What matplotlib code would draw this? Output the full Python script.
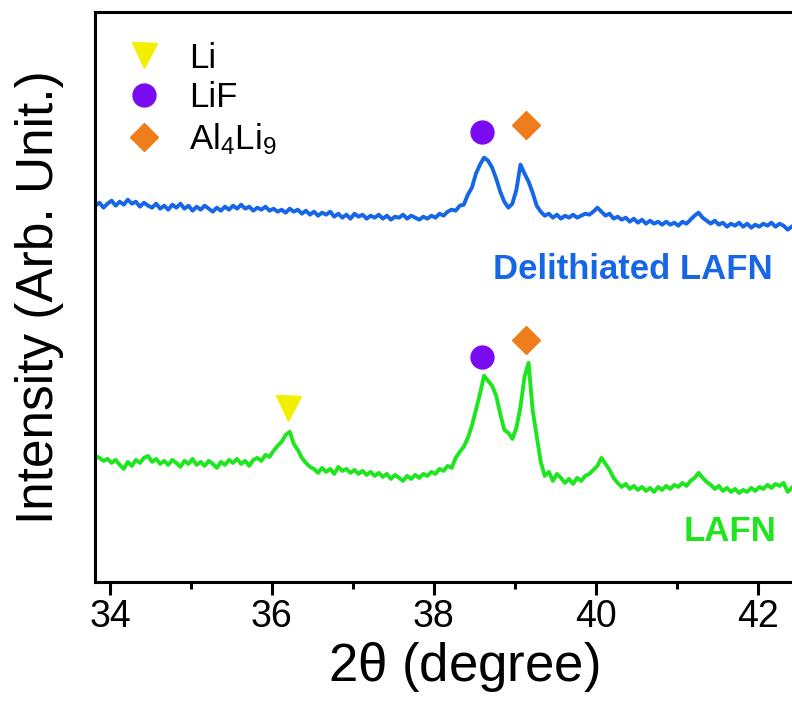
import matplotlib
matplotlib.use("Agg")
import matplotlib.pyplot as plt
import numpy as np

plt.rcParams['font.family'] = ['Liberation Sans', 'DejaVu Sans']
plt.rcParams['mathtext.fontset'] = 'custom'
plt.rcParams['mathtext.rm'] = 'Liberation Sans'
plt.rcParams['mathtext.it'] = 'Liberation Sans'

# 2theta scan grid (deg), 0.05 deg step
two_theta = np.round(33.82 + 0.05 * np.arange(173), 2)

# LAFN (plotted, arb. units)
lafn = [126, 124, 121, 123, 119, 122, 117, 113, 120, 116,
        122, 119, 124, 126, 120, 123, 118, 121, 117, 122,
        119, 115, 121, 118, 123, 117, 120, 116, 121, 118,
        114, 120, 117, 122, 119, 123, 118, 121, 116, 122,
        124, 121, 127, 125, 131, 136, 140, 147, 150, 138,
        132, 124, 119, 115, 113, 109, 114, 110, 113, 108,
        115, 111, 113, 109, 112, 108, 111, 107, 110, 106,
        109, 105, 108, 103, 107, 104, 101, 106, 103, 107,
        104, 108, 106, 110, 108, 113, 111, 116, 114, 124,
        130, 135, 144, 156, 172, 188, 206, 201, 196, 186,
        168, 152, 149, 143, 154, 175, 205, 219, 172, 146,
        120, 106, 110, 101, 108, 104, 99, 103, 98, 104,
        101, 106, 108, 112, 116, 124, 118, 112, 104, 99,
        95, 98, 93, 96, 92, 95, 91, 94, 90, 95,
        92, 96, 93, 97, 95, 99, 96, 101, 104, 109,
        104, 100, 97, 93, 96, 91, 94, 90, 93, 89,
        92, 90, 94, 91, 95, 93, 97, 94, 98, 96,
        99, 90, 94]

# Delithiated LAFN (plotted, arb. units)
delith = [376, 379, 374, 378, 381, 376, 380, 377, 382, 378,
          380, 375, 379, 376, 374, 378, 373, 376, 372, 377,
          374, 378, 373, 376, 371, 375, 372, 376, 373, 370,
          374, 371, 375, 372, 376, 373, 377, 373, 375, 371,
          374, 372, 375, 371, 373, 370, 372, 369, 373, 370,
          372, 368, 371, 367, 370, 366, 369, 367, 370, 365,
          368, 364, 367, 363, 368, 365, 367, 363, 366, 364,
          367, 363, 366, 362, 365, 364, 367, 363, 366, 364,
          362, 365, 363, 366, 364, 368, 366, 370, 372, 371,
          376, 377, 387, 394, 408, 417, 424, 421, 414, 403,
          390, 380, 374, 378, 392, 417, 408, 400, 389, 376,
          370, 366, 368, 364, 367, 363, 366, 364, 367, 364,
          366, 368, 367, 370, 374, 370, 366, 368, 363, 365,
          362, 364, 360, 363, 359, 362, 358, 361, 358, 360,
          357, 360, 357, 359, 356, 360, 358, 362, 366, 369,
          364, 361, 358, 361, 357, 359, 355, 358, 356, 359,
          355, 358, 354, 357, 355, 358, 356, 359, 355, 358,
          356, 352, 355]

# phase markers: position (deg) and height
li_pos, li_h = [36.20], [174]
lif_pos, lif_h = [38.60, 38.60], [450, 225]
al_pos, al_h = [39.14, 39.14], [457, 242]

c_blue = '#1766E6'
c_green = '#1EE61E'

fig = plt.figure(figsize=(7.92, 7.02), dpi=100)
W, H = 792, 702
ax = fig.add_axes([95 / W, 1 - 582 / H, (833 - 95) / W, (582 - 11.5) / H])

ax.plot(two_theta, delith, color=c_blue, lw=2.8)
ax.plot(two_theta, lafn, color=c_green, lw=2.8)

ax.plot(li_pos, li_h, 'v', color='#F2F000', ms=18, ls='none', label='Li')
ax.plot(lif_pos, lif_h, 'o', color='#7A0AF0', ms=16.5, ls='none', label='LiF')
ax.plot(al_pos, al_h, 'D', color='#F07D1C', ms=14, ls='none', label=r'Al$_4$Li$_9$')

ax.text(42.185, 312, 'Delithiated LAFN', color=c_blue, fontsize=25,
        fontweight='bold', ha='right', va='center')
ax.text(42.235, 50, 'LAFN', color=c_green, fontsize=25,
        fontweight='bold', ha='right', va='center')

ax.set_xlim(33.815, 42.93)
ax.set_ylim(0, 570)
ax.set_xticks([34, 36, 38, 40, 42])
ax.set_xticks([35, 37, 39, 41], minor=True)
ax.set_yticks([])
ax.tick_params(axis='x', which='major', direction='out', length=9, width=2.2,
               labelsize=27, pad=3)
ax.tick_params(axis='x', which='minor', direction='out', length=5, width=2.2)
for s in ['left', 'bottom', 'top']:
    ax.spines[s].set_linewidth(2.2)
ax.spines['right'].set_visible(False)

ax.set_xlabel(r'2$\theta$ (degree)', fontsize=38, labelpad=4)
ax.set_ylabel('Intensity (Arb. Unit.)', fontsize=37)
ax.yaxis.set_label_coords(-(95 - 64) / (833 - 95), 0.5)

ax.legend(loc='upper left', bbox_to_anchor=(0.01, 0.99), frameon=False,
          fontsize=25, handlelength=1.0, handletextpad=0.8, labelspacing=0.2,
          borderpad=0.2)

fig.savefig('out.png', dpi=100)
